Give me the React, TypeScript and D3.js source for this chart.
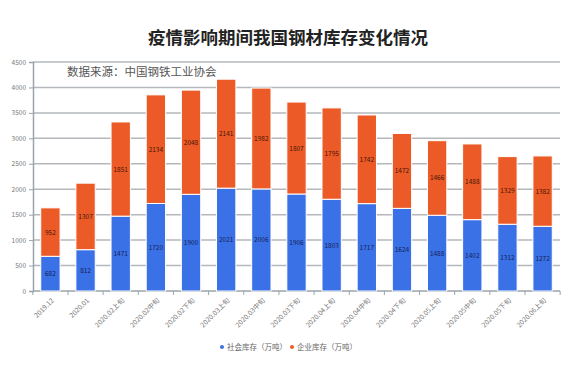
import React, { useEffect, useRef } from 'react';
import * as d3 from 'd3';

const categories = [
  '2019.12', '2020.01', '2020.02上旬', '2020.02中旬', '2020.02下旬',
  '2020.03上旬', '2020.03中旬', '2020.03下旬', '2020.04上旬', '2020.04中旬',
  '2020.04下旬', '2020.05上旬', '2020.05中旬', '2020.05下旬', '2020.06上旬',
];
const socialStock = [682, 812, 1471, 1720, 1900, 2021, 2006, 1906, 1803, 1717, 1624, 1488, 1402, 1312, 1272];
const companyStock = [952, 1307, 1851, 2134, 2048, 2141, 1982, 1807, 1795, 1742, 1472, 1466, 1488, 1329, 1382];
const yTicks = [0, 500, 1000, 1500, 2000, 2500, 3000, 3500, 4000, 4500];
const seriesNames = ['社会库存（万吨）', '企业库存（万吨）'];
const colors = ['#3b71e6', '#ec5b27'];

const W = 576;
const H = 370;
const margin = { top: 62, right: 16, bottom: 79, left: 33 };

const App = () => {
  const svgRef = useRef<SVGSVGElement>(null);

  useEffect(() => {
    const svg = d3.select(svgRef.current);
    svg.selectAll('*').remove();
    const font = '"Noto Sans CJK SC", "Noto Sans", sans-serif';

    const innerW = W - margin.left - margin.right;
    const innerH = H - margin.top - margin.bottom;

    const x = d3.scaleBand<string>().domain(categories).range([0, innerW]).paddingInner(0.45).paddingOuter(0.22);
    const y = d3.scaleLinear().domain([0, 4500]).range([innerH, 0]);

    svg.append('rect').attr('width', W).attr('height', H).attr('fill', '#fff');

    svg.append('text')
      .attr('x', W / 2).attr('y', 44)
      .attr('text-anchor', 'middle')
      .attr('font-family', font).attr('font-weight', 'bold').attr('font-size', 17.5)
      .attr('fill', '#222')
      .text('疫情影响期间我国钢材库存变化情况');

    const g = svg.append('g').attr('transform', `translate(${margin.left},${margin.top})`);

    // gridlines
    g.selectAll('.grid').data(yTicks.filter(d => d > 0)).enter().append('line')
      .attr('x1', 0).attr('x2', innerW)
      .attr('y1', d => y(d)).attr('y2', d => y(d))
      .attr('stroke', '#b4b8bc').attr('stroke-width', 1.5);

    g.append('text')
      .attr('x', 34).attr('y', 14)
      .attr('font-family', font).attr('font-size', 11.5)
      .attr('fill', '#555')
      .text('数据来源：中国钢铁工业协会');

    // y axis
    const yAxis = g.append('g').call(d3.axisLeft(y).tickValues(yTicks).tickFormat(d3.format('d')).tickSize(4).tickPadding(3));
    yAxis.select('.domain').attr('stroke', '#9aa3ab').attr('stroke-width', 1.5);
    yAxis.selectAll('.tick line').attr('stroke', '#9aa3ab');
    yAxis.selectAll('.tick text').attr('fill', '#777').attr('font-size', 6.5).attr('font-family', font);

    // x axis
    const xAxisG = g.append('g').attr('transform', `translate(0,${innerH})`);
    xAxisG.append('line').attr('x1', 0).attr('x2', innerW).attr('stroke', '#9aa3ab').attr('stroke-width', 1.5);
    const step = x.step();
    const x0 = x(categories[0])! - (step - x.bandwidth()) / 2;
    xAxisG.selectAll('.xt').data(d3.range(categories.length + 1)).enter().append('line')
      .attr('x1', i => x0 + i * step).attr('x2', i => x0 + i * step)
      .attr('y1', 0).attr('y2', 4)
      .attr('stroke', '#9aa3ab');
    xAxisG.selectAll('.xl').data(categories).enter().append('text')
      .attr('transform', d => `translate(${x(d)! + x.bandwidth() / 2 + 4},${10}) rotate(-45)`)
      .attr('text-anchor', 'end')
      .attr('font-family', font).attr('font-size', 6.8)
      .attr('fill', '#777')
      .text(d => d);

    // stacked bars
    const rows = categories.map((c, i) => ({ c, s: socialStock[i], e: companyStock[i] }));
    const stack = d3.stack<any>().keys(['s', 'e'])(rows);

    stack.forEach((layer, li) => {
      const lg = g.append('g');
      lg.selectAll('rect').data(layer).enter().append('rect')
        .attr('x', d => x(d.data.c)!)
        .attr('width', x.bandwidth())
        .attr('y', d => y(d[1]))
        .attr('height', d => y(d[0]) - y(d[1]))
        .attr('fill', colors[li])
        .attr('stroke', '#fff').attr('stroke-width', 1);
      lg.selectAll('text').data(layer).enter().append('text')
        .attr('x', d => x(d.data.c)! + x.bandwidth() / 2)
        .attr('y', d => (y(d[0]) + y(d[1])) / 2 + 2.5)
        .attr('text-anchor', 'middle')
        .attr('font-family', font).attr('font-size', 6.5)
        .attr('fill', li === 0 ? '#14225a' : '#4a1406')
        .text(d => d[1] - d[0]);
    });

    // legend
    const legend = svg.append('g').attr('transform', 'translate(222,347)');
    seriesNames.forEach((name, i) => {
      const lx = i * 70;
      legend.append('circle').attr('cx', lx).attr('cy', 0).attr('r', 2).attr('fill', colors[i]);
      legend.append('text')
        .attr('x', lx + 5).attr('y', 2.5)
        .attr('font-family', font).attr('font-size', 7.5)
        .attr('fill', '#666')
        .text(name);
    });
  }, []);

  return (
    <div>
      <svg ref={svgRef} width={W} height={H} style={{ display: 'block', position: 'absolute', left: 0, top: 0 }}></svg>
    </div>
  );
};

export default App;
